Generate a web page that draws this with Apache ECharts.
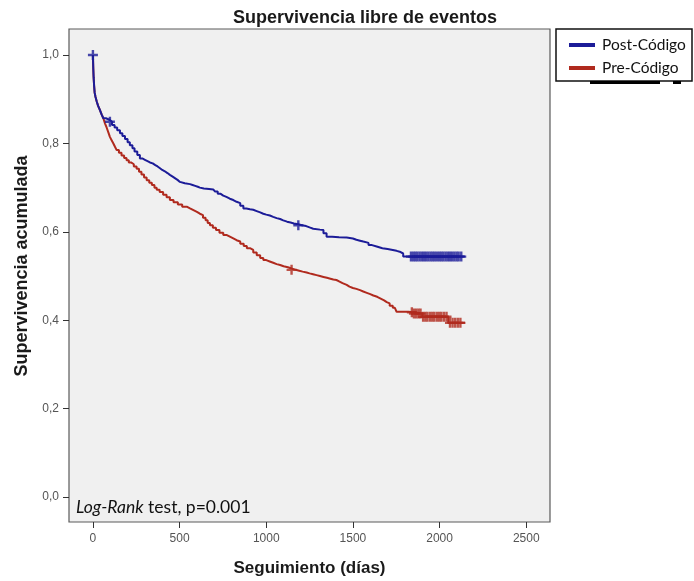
<!DOCTYPE html>
<html>
<head>
<meta charset="utf-8">
<script src="https://cdn.jsdelivr.net/npm/echarts@6/dist/echarts.min.js"></script>
<style>html,body{margin:0;padding:0;background:#fff;}#c{width:694px;height:581px;}</style>
</head>
<body>
<div id="c"></div>
<script>
const titleText = 'Supervivencia libre de eventos';
const xName = 'Seguimiento (días)';
const yName = 'Supervivencia acumulada';
const xTicks = [0, 500, 1000, 1500, 2000, 2500];
const yTicks = [0, 0.2, 0.4, 0.6, 0.8, 1.0];
const seriesNames = ['Post-Código', 'Pre-Código'];

const postT = [0, 2, 4, 7, 10, 15, 22, 30, 40, 50, 60, 75, 98, 110, 125, 140, 156, 170, 185, 200, 213, 228, 240, 256, 271, 285, 300, 315, 329, 345, 360, 373, 387, 400, 415, 430, 444, 460, 475, 490, 502, 530, 560, 575, 590, 605, 617, 640, 670, 694, 705, 720, 737, 752, 770, 790, 810, 829, 850, 868, 885, 906, 925, 945, 965, 983, 1000, 1021, 1040, 1060, 1080, 1098, 1120, 1140, 1160, 1185, 1205, 1230, 1250, 1271, 1310, 1330, 1348, 1380, 1420, 1464, 1500, 1520, 1541, 1560, 1590, 1610, 1637, 1670, 1700, 1730, 1752, 1770, 1790, 2147];
const postS = [1.0, 0.97, 0.95, 0.93, 0.915, 0.905, 0.895, 0.885, 0.876, 0.866, 0.857, 0.853, 0.849, 0.842, 0.836, 0.830, 0.823, 0.817, 0.810, 0.803, 0.796, 0.789, 0.782, 0.774, 0.766, 0.763, 0.760, 0.757, 0.755, 0.751, 0.748, 0.744, 0.740, 0.737, 0.733, 0.729, 0.725, 0.721, 0.717, 0.713, 0.710, 0.708, 0.706, 0.704, 0.702, 0.700, 0.698, 0.697, 0.696, 0.695, 0.691, 0.686, 0.682, 0.679, 0.675, 0.672, 0.668, 0.665, 0.659, 0.653, 0.651, 0.650, 0.647, 0.644, 0.641, 0.639, 0.637, 0.634, 0.631, 0.629, 0.626, 0.623, 0.621, 0.619, 0.617, 0.615, 0.613, 0.610, 0.607, 0.605, 0.604, 0.597, 0.589, 0.588, 0.587, 0.585, 0.582, 0.580, 0.578, 0.575, 0.570, 0.567, 0.563, 0.561, 0.559, 0.557, 0.555, 0.551, 0.544, 0.544];

const preT = [0, 2, 4, 7, 10, 15, 22, 30, 40, 50, 60, 70, 80, 90, 98, 108, 118, 128, 137, 150, 165, 180, 194, 207, 220, 236, 252, 266, 280, 295, 310, 325, 340, 355, 368, 385, 405, 425, 444, 465, 490, 515, 541, 560, 580, 600, 617, 635, 650, 662, 675, 692, 710, 730, 752, 770, 790, 810, 829, 850, 870, 888, 906, 925, 945, 965, 983, 1000, 1020, 1040, 1060, 1080, 1100, 1125, 1146, 1170, 1190, 1210, 1233, 1250, 1270, 1290, 1310, 1330, 1350, 1370, 1387, 1405, 1420, 1440, 1464, 1480, 1500, 1520, 1541, 1560, 1580, 1600, 1618, 1640, 1660, 1680, 1695, 1712, 1730, 1742, 1752, 1820, 1849, 1900, 2050, 2147];
const preS = [1.0, 0.97, 0.95, 0.93, 0.915, 0.905, 0.895, 0.885, 0.876, 0.866, 0.857, 0.845, 0.835, 0.824, 0.815, 0.807, 0.800, 0.792, 0.785, 0.779, 0.773, 0.767, 0.762, 0.757, 0.753, 0.748, 0.743, 0.736, 0.730, 0.723, 0.717, 0.711, 0.706, 0.700, 0.695, 0.690, 0.684, 0.678, 0.672, 0.667, 0.662, 0.657, 0.653, 0.649, 0.645, 0.641, 0.638, 0.632, 0.626, 0.620, 0.615, 0.609, 0.604, 0.598, 0.593, 0.589, 0.585, 0.581, 0.578, 0.573, 0.568, 0.563, 0.559, 0.553, 0.547, 0.541, 0.536, 0.533, 0.530, 0.527, 0.525, 0.522, 0.520, 0.517, 0.514, 0.512, 0.510, 0.508, 0.506, 0.504, 0.502, 0.500, 0.498, 0.496, 0.494, 0.492, 0.491, 0.488, 0.484, 0.480, 0.476, 0.473, 0.471, 0.468, 0.465, 0.462, 0.459, 0.456, 0.453, 0.449, 0.445, 0.441, 0.438, 0.433, 0.428, 0.424, 0.419, 0.418, 0.415, 0.408, 0.394, 0.394];

const postCensT = [0, 98, 1185, 1835, 1848, 1860, 1872, 1885, 1898, 1910, 1922, 1935, 1948, 1960, 1972, 1985, 1998, 2010, 2022, 2035, 2048, 2060, 2072, 2085, 2098, 2110, 2125];
const preCensT = [1146, 1840, 1852, 1865, 1878, 1890, 1905, 1918, 1930, 1945, 1958, 1970, 1985, 1998, 2010, 2025, 2040, 2060, 2075, 2090, 2105, 2120];

function stepAt(T, S, t) {
  let v = S[0];
  for (let i = 0; i < T.length; i++) { if (T[i] <= t) v = S[i]; }
  return v;
}
const zip = (T, S) => T.map((t, i) => [t, S[i]]);
const cens = (C, T, S) => C.map(t => [t, stepAt(T, S, t)]);

const blue = '#1c1c98';
const red = '#b02a1e';
const plus = 'path://M3.8,0H6.2V3.8H10V6.2H6.2V10H3.8V6.2H0V3.8H3.8Z';

const chart = echarts.init(document.getElementById('c'), null, {renderer: 'canvas'});
chart.setOption({
  animation: false,
  backgroundColor: '#ffffff',
  title: {
    text: titleText, left: 228, top: 4,
    textStyle: {fontFamily: 'Liberation Sans', fontSize: 18, fontWeight: 'bold', color: '#1a1a1a'}
  },
  legend: {
    data: seriesNames, orient: 'vertical', left: 569, top: 36, padding: 0,
    itemWidth: 26, itemHeight: 4, itemGap: 5, icon: 'rect',
    textStyle: {fontFamily: 'Lato', fontSize: 15.5, color: '#111', lineHeight: 18, padding: [0, 0, 0, 2]}
  },
  grid: {left: 69, top: 29, width: 481, height: 493, show: true, containLabel: false, outerBoundsMode: 'none',
    backgroundColor: '#f0f0f0', borderColor: '#5a5a5a', borderWidth: 1.2},
  xAxis: {
    type: 'value', min: -138, max: 2637,
    name: xName, nameLocation: 'middle', nameGap: 38,
    nameTextStyle: {fontFamily: 'Liberation Sans', fontSize: 17, fontWeight: 'bold', color: '#1a1a1a'},
    axisLine: {show: false, onZero: false},
    splitLine: {show: false},
    axisTick: {show: true, customValues: xTicks, length: 6, lineStyle: {color: '#333'}},
    axisLabel: {customValues: xTicks, margin: 11, fontFamily: 'Liberation Sans', fontSize: 12, color: '#555',
      formatter: v => String(v)}
  },
  yAxis: {
    type: 'value', min: -0.0566, max: 1.059,
    axisLine: {show: false, onZero: false},
    splitLine: {show: false},
    axisTick: {show: true, customValues: yTicks, length: 6, lineStyle: {color: '#333'}},
    axisLabel: {customValues: yTicks, margin: 10, fontFamily: 'Liberation Sans', fontSize: 12, color: '#555',
      formatter: v => v.toFixed(1).replace('.', ',')}
  },
  graphic: [
    {type: 'text', x: 22, y: 266, rotation: Math.PI / 2, z: 10,
      style: {text: yName, fontFamily: 'Liberation Sans', fontSize: 18, fontWeight: 'bold', fill: '#1a1a1a',
        textAlign: 'center', textVerticalAlign: 'middle'}},
    {type: 'rect', shape: {x: 556, y: 29, width: 136, height: 52}, style: {fill: 'none', stroke: '#111', lineWidth: 1.5}, z: 10},
    {type: 'rect', shape: {x: 590, y: 81, width: 70, height: 3}, style: {fill: '#000'}, z: 10},
    {type: 'rect', shape: {x: 673, y: 81, width: 8, height: 3}, style: {fill: '#000'}, z: 10},
    {type: 'text', left: 76, top: 498, z: 10,
      style: {text: '{i|Log-Rank} test, p=0.001', fontFamily: 'Lato', fontSize: 17.5, fill: '#111',
        rich: {i: {fontStyle: 'italic', fontFamily: 'Lato', fontSize: 17.5, fill: '#111'}}}}
  ],
  series: [
    {name: seriesNames[1], type: 'line', step: 'end', data: zip(preT, preS), showSymbol: false, color: red,
      lineStyle: {color: red, width: 2}, z: 2},
    {name: seriesNames[1] + ' censor', type: 'scatter', data: cens(preCensT, preT, preS), symbol: plus, symbolSize: 10,
      itemStyle: {color: red}, z: 3},
    {name: seriesNames[0], type: 'line', step: 'end', data: zip(postT, postS), showSymbol: false, color: blue,
      lineStyle: {color: blue, width: 2}, z: 4},
    {name: seriesNames[0] + ' censor', type: 'scatter', data: cens(postCensT, postT, postS), symbol: plus, symbolSize: 10,
      itemStyle: {color: blue}, z: 5}
  ]
});
</script>
</body>
</html>
